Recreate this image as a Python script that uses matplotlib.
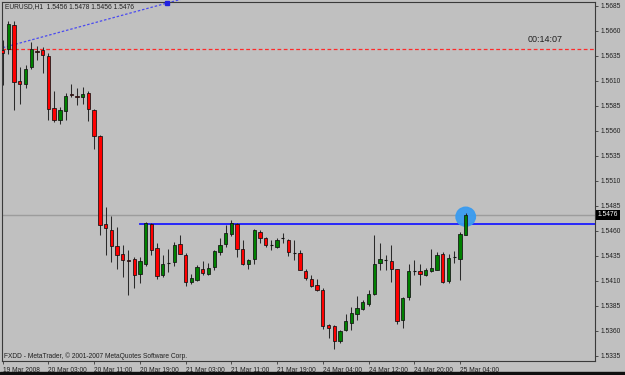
import matplotlib
matplotlib.use("Agg")
import matplotlib.pyplot as plt
from matplotlib.patches import Ellipse, Rectangle

# hourly EURUSD candles, 19 Mar 2008 19:00 .. 25 Mar 2008 05:00
opens = [1.5641, 1.5642, 1.5666, 1.5610, 1.5607, 1.5624, 1.5640, 1.5641, 1.5635, 1.5583,
         1.5571, 1.5580, 1.5597, 1.5595, 1.5594, 1.5598, 1.5581, 1.5555, 1.5467, 1.5461,
         1.5445, 1.5437, 1.5431, 1.5432, 1.5417, 1.5427, 1.5467, 1.5443, 1.5416, 1.5428,
         1.5429, 1.5447, 1.5436, 1.5409, 1.5411, 1.5422, 1.5417, 1.5424, 1.5439, 1.5447,
         1.5457, 1.5467, 1.5442, 1.5427, 1.5432, 1.5459, 1.5453, 1.5446, 1.5444, 1.5453,
         1.5451, 1.5438, 1.5438, 1.5420, 1.5412, 1.5406, 1.5401, 1.5366, 1.5365, 1.5350,
         1.5361, 1.5368, 1.5377, 1.5382, 1.5387, 1.5397, 1.5428, 1.5431, 1.5430, 1.5422,
         1.5371, 1.5394, 1.5420, 1.5420, 1.5416, 1.5420, 1.5421, 1.5437, 1.5410, 1.5434,
         1.5432, 1.5456]
highs = [1.5651, 1.5670, 1.5670, 1.5624, 1.5626, 1.5649, 1.5645, 1.5644, 1.5638, 1.5600,
         1.5584, 1.5598, 1.5607, 1.5603, 1.5604, 1.5600, 1.5582, 1.5556, 1.5484, 1.5475,
         1.5464, 1.5446, 1.5441, 1.5434, 1.5434, 1.5469, 1.5468, 1.5448, 1.5436, 1.5442,
         1.5449, 1.5456, 1.5438, 1.5417, 1.5426, 1.5430, 1.5428, 1.5441, 1.5453, 1.5466,
         1.5471, 1.5468, 1.5451, 1.5432, 1.5462, 1.5461, 1.5454, 1.5451, 1.5453, 1.5458,
         1.5452, 1.5451, 1.5441, 1.5422, 1.5416, 1.5412, 1.5403, 1.5367, 1.5366, 1.5361,
         1.5377, 1.5384, 1.5395, 1.5391, 1.5401, 1.5456, 1.5448, 1.5436, 1.5446, 1.5422,
         1.5394, 1.5427, 1.5431, 1.5427, 1.5423, 1.5442, 1.5439, 1.5439, 1.5437, 1.5440,
         1.5459, 1.5478]
lows = [1.5606, 1.5637, 1.5581, 1.5587, 1.5603, 1.5622, 1.5631, 1.5618, 1.5571, 1.5569,
        1.5567, 1.5571, 1.5594, 1.5586, 1.5587, 1.5570, 1.5542, 1.5456, 1.5436, 1.5429,
        1.5422, 1.5414, 1.5396, 1.5403, 1.5408, 1.5425, 1.5436, 1.5412, 1.5414, 1.5419,
        1.5425, 1.5437, 1.5405, 1.5407, 1.5410, 1.5416, 1.5416, 1.5421, 1.5436, 1.5444,
        1.5455, 1.5434, 1.5426, 1.5422, 1.5427, 1.5448, 1.5444, 1.5441, 1.5443, 1.5448,
        1.5435, 1.5431, 1.5421, 1.5411, 1.5404, 1.5400, 1.5362, 1.5353, 1.5342, 1.5348,
        1.5360, 1.5361, 1.5371, 1.5381, 1.5385, 1.5396, 1.5421, 1.5421, 1.5409, 1.5367,
        1.5363, 1.5391, 1.5416, 1.5406, 1.5415, 1.5419, 1.5421, 1.5408, 1.5408, 1.5428,
        1.5411, 1.5456]
closes = [1.5638, 1.5667, 1.5609, 1.5607, 1.5622, 1.5642, 1.5639, 1.5636, 1.5582, 1.5571,
          1.5581, 1.5595, 1.5596, 1.5594, 1.5597, 1.5582, 1.5555, 1.5466, 1.5463, 1.5445,
          1.5436, 1.5431, 1.5430, 1.5416, 1.5430, 1.5468, 1.5441, 1.5415, 1.5427, 1.5428,
          1.5446, 1.5437, 1.5409, 1.5413, 1.5424, 1.5418, 1.5423, 1.5440, 1.5446, 1.5458,
          1.5468, 1.5442, 1.5427, 1.5431, 1.5461, 1.5453, 1.5446, 1.5446, 1.5451, 1.5453,
          1.5439, 1.5438, 1.5421, 1.5413, 1.5405, 1.5401, 1.5365, 1.5363, 1.5350, 1.5360,
          1.5370, 1.5378, 1.5383, 1.5389, 1.5397, 1.5427, 1.5432, 1.5431, 1.5422, 1.5370,
          1.5393, 1.5420, 1.5420, 1.5417, 1.5421, 1.5423, 1.5436, 1.5409, 1.5433, 1.5434,
          1.5457, 1.5476]

date_ticks = [0, 8, 16, 24, 32, 40, 48, 56, 64, 72, 80]
date_labels = ["19 Mar 2008", "20 Mar 03:00", "20 Mar 11:00", "20 Mar 19:00",
               "21 Mar 03:00", "21 Mar 11:00", "21 Mar 19:00", "24 Mar 04:00",
               "24 Mar 12:00", "24 Mar 20:00", "25 Mar 04:00"]
price_ticks = [1.5685, 1.5660, 1.5635, 1.5610, 1.5585, 1.5560, 1.5535, 1.5510,
               1.5485, 1.5460, 1.5435, 1.5410, 1.5385, 1.5360, 1.5335]

bid = 1.5476
resistance = 1.5467          # blue horizontal line
resistance_from = 24
red_level = 1.5642           # dashed red line
trend_bars = [0, 29]         # blue dotted trend line anchors
trend_prices = [1.5643, 1.5688]
title = "EURUSD,H1  1.5456 1.5478 1.5456 1.5476"
timer = "00:14:07"

BG = "#c0c0c0"
W, H = 625, 375

fig = plt.figure(figsize=(W / 100, H / 100), dpi=100, facecolor=BG)
left, right, top, bottom = 2, 595, 2, 361
ax = fig.add_axes([left / W, (H - bottom) / H, (right - left) / W, (bottom - top) / H])
ax.set_facecolor(BG)
ax.set_xlim(-0.12, 103.62)
ax.set_ylim(1.53297, 1.56887)

font = "Liberation Sans"
fs = 4.8

# levels
ax.axhline(bid, color="#9c9c9c", lw=1.0, zorder=1)
ax.axhline(red_level, color="#ff2a2a", lw=0.9, ls=(0, (3, 2)), zorder=1)
ax.plot([resistance_from, 104], [resistance, resistance], color="#1a1aff", lw=1.3, zorder=2)

# trend ray through the two anchors, runs off the top of the frame
slope = (trend_prices[1] - trend_prices[0]) / (trend_bars[1] - trend_bars[0])
ax.plot([trend_bars[0], 40], [trend_prices[0], trend_prices[0] + slope * 40],
        color="#4a4af0", lw=0.9, ls=(0, (2, 1.5)), zorder=2, clip_on=False)
ax.plot(trend_bars[1] - 0.3, trend_prices[1], marker="s", ms=2.2, color="#2020e0",
        zorder=3, clip_on=False)

# highlight on the last candle
last = len(closes) - 1
ax.add_patch(Ellipse((last, highs[last] - 0.0004), 3.4, 0.0019, color="#3a9cf0",
                     alpha=0.95, zorder=3))

# candles
bw = 0.58
for i, (o, h, l, c) in enumerate(zip(opens, highs, lows, closes)):
    ax.vlines(i, l, h, color="#2a2a2a", lw=0.75, zorder=4)
    if abs(c - o) < 0.00005:
        ax.hlines(o, i - bw / 2, i + bw / 2, color="#111111", lw=0.8, zorder=5)
        continue
    col = "#008000" if c > o else "#ff0000"
    ax.add_patch(Rectangle((i - bw / 2, min(o, c)), bw, abs(c - o), facecolor=col,
                           edgecolor="#111111", lw=0.55, zorder=5))

# axes look
for s in ax.spines.values():
    s.set_color("#3a3a3a")
    s.set_linewidth(0.8)
ax.yaxis.tick_right()
ax.set_yticks(price_ticks)
ax.set_yticklabels([f"{p:.4f}" for p in price_ticks], fontsize=fs, family=font,
                   color="#202020")
ax.set_xticks(date_ticks)
ax.set_xticklabels(date_labels, fontsize=fs, family=font, color="#202020", ha="left")
ax.tick_params(axis="both", length=2.5, width=0.6, color="#3a3a3a", pad=1.5)

# bid price box on the scale
ax.text(1.0045, bid, f"{bid:.4f}", transform=ax.get_yaxis_transform(), fontsize=fs,
        family=font, color="white", va="center", ha="left", zorder=10, clip_on=False,
        bbox=dict(boxstyle="square,pad=0.25", fc="black", ec="none"))

# text overlays
fig.text(5 / W, 1 - 6.7 / H, title, fontsize=fs, family=font, color="#202020",
         va="center", ha="left")
fig.text(545 / W, 1 - 40 / H, timer, fontsize=6.5, family=font, color="#202020",
         va="center", ha="center")
fig.text(4 / W, 1 - 356.5 / H, "FXDD - MetaTrader, \u00a9 2001-2007 MetaQuotes Software Corp.",
         fontsize=fs, family=font, color="#202020", va="center", ha="left")

# dark strip along the bottom edge
fig.add_artist(Rectangle((0, 0), 1, 3 / H, transform=fig.transFigure, color="#101010"))

fig.savefig("out.png", dpi=100, facecolor=BG)
